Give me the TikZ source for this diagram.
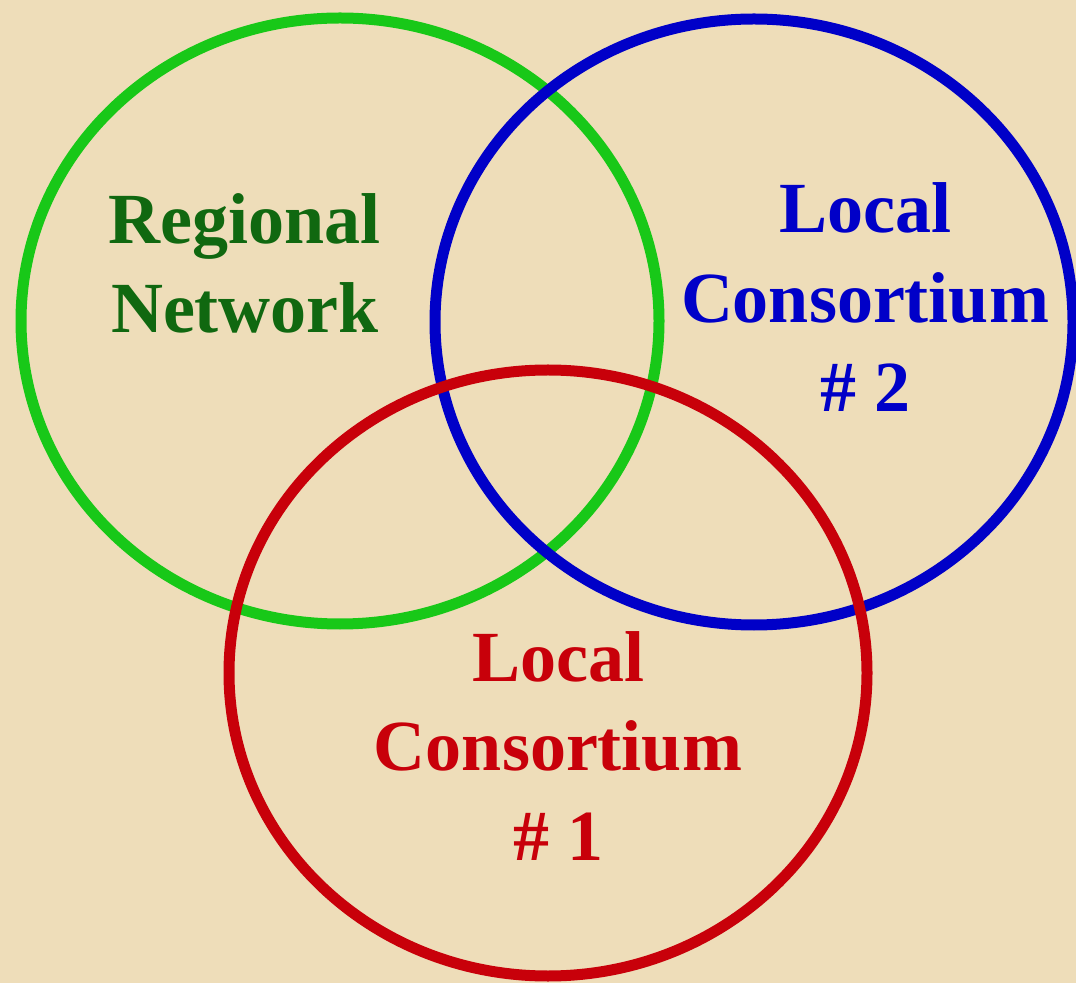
\documentclass[tikz,border=0pt]{standalone}
\usepackage{fontspec}
\setmainfont{Liberation Serif}
\usetikzlibrary{positioning,shapes.geometric}
\usepackage{xcolor}

\definecolor{paper}{HTML}{EEDDB9}
\definecolor{netgreen}{RGB}{24,200,24}
\definecolor{netgreentext}{RGB}{16,104,16}
\definecolor{consblue}{RGB}{0,0,200}
\definecolor{consred}{RGB}{200,0,10}

\begin{document}
\begin{tikzpicture}[
			x=0.5pt, y=-0.5pt,
			font=\bfseries\fontsize{36}{44.75}\selectfont,
			% Define styles for the rings and their captions
			ring/.style={ellipse, draw, line width=5.5pt, minimum width=319pt, minimum height=303pt, inner sep=0pt},
			caption/.style={align=center, anchor=base, inner sep=0pt}
			]
			
			% --- Background ---
			\fill[paper] (0,0) rectangle (1076,983);
			\useasboundingbox (0,0) rectangle (1076,983);
			
			% --- Rings ---
			\node (regional) [ring, draw=netgreen] at (340,321) {};
			
			\node (local2) [ring, draw=consblue] at (754,322) {};
			
			\node (local1) [ring, draw=consred] at (548,673) {};
			
			% --- Captions (placed at the baseline of the last line) ---
			\node (regionaltext) [caption, text=netgreentext] at (245,333) {Regional \\ Network};
			
			\node (local2text) [caption, text=consblue] at (865,412) {Local \\ Consortium \\ \# 2};
			
			\node (local1text) [caption, text=consred] at (558,860) {Local \\ Consortium \\ \# 1};
			
		\end{tikzpicture}
\end{document}
